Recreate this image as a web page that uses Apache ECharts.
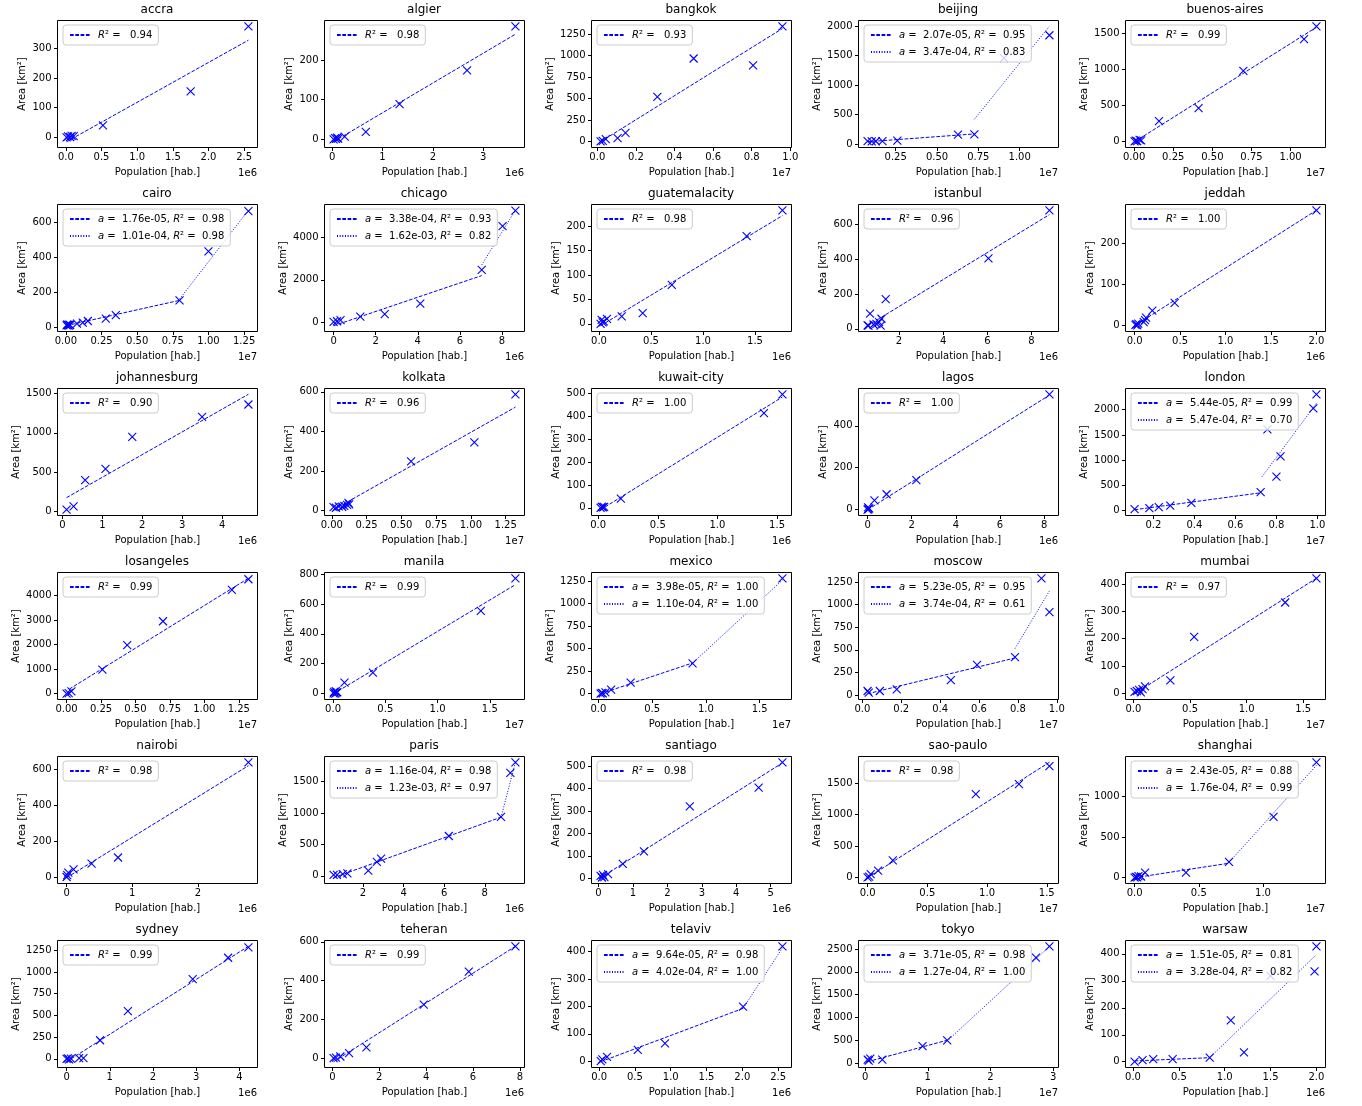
<!DOCTYPE html>
<html><head><meta charset="utf-8">
<script src="https://cdn.jsdelivr.net/npm/echarts@6/dist/echarts.min.js"></script>
<style>html,body{margin:0;padding:0;background:#fff}#c{width:1362px;height:1106px}</style>
</head><body><div id="c"></div>
<script>
const cities = ['accra','algier','bangkok','beijing','buenos-aires','cairo','chicago','guatemalacity','istanbul','jeddah','johannesburg','kolkata','kuwait-city','lagos','london','losangeles','manila','mexico','moscow','mumbai','nairobi','paris','santiago','sao-paulo','shanghai','sydney','teheran','telaviv','tokyo','warsaw'];
const exponents = [6,6,7,7,7,7,6,6,6,6,6,7,6,6,7,7,7,7,7,7,6,6,6,7,7,6,6,6,7,6];
const popX = [
 [0.01,0.03,0.06,0.08,0.11,0.52,1.75,2.56],
 [0.03,0.06,0.08,0.1,0.12,0.25,0.67,1.34,2.68,3.64],
 [0.017,0.028,0.044,0.105,0.146,0.311,0.499,0.807,0.959],
 [0.08,0.105,0.13,0.17,0.26,0.627,0.726,0.905,1.18],
 [0.003,0.01,0.02,0.035,0.045,0.159,0.412,0.698,1.086,1.165],
 [0.005,0.01,0.015,0.02,0.025,0.03,0.078,0.118,0.154,0.28,0.35,0.797,1.0,1.28],
 [0.0,0.165,0.33,1.27,2.43,4.12,7.04,8.03,8.64],
 [0.015,0.025,0.035,0.045,0.076,0.218,0.42,0.70,1.42,1.764],
 [0.58,0.62,0.69,0.85,0.98,1.1,1.17,1.21,1.4,6.05,8.81],
 [0.01,0.02,0.03,0.04,0.1,0.115,0.126,0.195,0.441,2.0],
 [0.105,0.28,0.57,1.08,1.75,3.5,4.66],
 [0.013,0.03,0.05,0.075,0.09,0.11,0.12,0.125,0.57,1.025,1.32],
 [0.02,0.03,0.04,0.05,0.19,1.39,1.545],
 [0.0,0.02,0.04,0.07,0.31,0.86,2.21,8.24],
 [0.108,0.18,0.226,0.282,0.385,0.723,0.8,0.82,0.756,0.98,0.995],
 [0.0,0.015,0.035,0.26,0.44,0.70,1.20,1.32],
 [0.005,0.01,0.02,0.025,0.03,0.04,0.109,0.381,1.414,1.745],
 [0.02,0.03,0.04,0.065,0.118,0.30,0.876,1.712],
 [0.027,0.033,0.09,0.177,0.455,0.59,0.785,0.921,0.962],
 [0.01,0.03,0.05,0.065,0.08,0.102,0.326,0.536,1.34,1.616],
 [0.0,0.01,0.026,0.106,0.38,0.783,2.767],
 [0.55,0.72,1.0,1.23,2.26,2.68,2.89,6.23,8.8,9.26,9.51],
 [0.06,0.1,0.13,0.17,0.276,0.705,1.32,2.65,4.65,5.34],
 [0.0,0.013,0.026,0.088,0.211,0.906,1.267,1.522],
 [0.0,0.01,0.02,0.03,0.05,0.082,0.4,0.735,1.082,1.416],
 [0.0,0.03,0.06,0.1,0.29,0.39,0.775,1.42,2.92,3.74,4.21],
 [0.05,0.15,0.34,0.71,1.45,3.9,5.82,7.81],
 [0.022,0.044,0.11,0.54,0.92,2.01,2.56],
 [0.042,0.058,0.083,0.275,0.917,1.31,2.725,2.94],
 [0.017,0.104,0.22,0.432,0.836,1.066,1.21,1.5,1.98,2.0]
];
const areaY = [
 [0,3,1,5,4,40,155,375],
 [0,3,1,4,2,7,19,89,174,285],
 [0,8,28,39,99,520,966,887,1341],
 [50,45,48,50,58,161,165,1457,1843],
 [0,10,2,20,15,283,462,981,1425,1604],
 [10,15,12,8,14,11,20,26,35,49,69,153,433,663],
 [0,33,83,250,367,867,2467,4550,5283],
 [0,8,3,5,10,15,22,80,180,233],
 [20,18,87,25,29,39,19,58,171,404,680],
 [0,2,-1,3,7,12,18,35,54,282],
 [22,65,400,543,948,1204,1361],
 [18,15,22,20,25,30,40,32,249,345,588],
 [0,5,2,4,40,414,496],
 [0,10,2,5,44,73,141,551],
 [33,53,73,100,154,368,675,1076,1611,2025,2306],
 [0,20,100,980,1980,2950,4230,4660],
 [0,10,-2,15,5,8,72,140,554,773],
 [0,10,5,15,45,124,337,1280],
 [45,26,45,64,165,334,420,1291,916],
 [5,8,12,3,15,25,47,207,333,422],
 [0,11,25,43,75,109,641],
 [17,17,28,39,83,221,276,635,939,1641,1807],
 [10,3,15,5,18,64,120,321,405,518],
 [0,11,54,108,270,1322,1484,1770],
 [0,10,5,20,15,62,62,196,750,1425],
 [0,5,-5,3,8,8,214,550,918,1163,1282],
 [0,3,9,26,56,276,446,577],
 [0,7,16,41,65,199,420],
 [75,52,97,75,373,500,2313,2560],
 [0,6,10,10,15,153,35,318,335,428]
];
// fit segments: [x0, y0, x1, y1]
const fitA = [
 [0.01,-15,2.56,328],[0.03,-6,3.64,265],[0.017,-3,0.959,1315],[0.08,40,0.726,172],[0.003,-5,1.165,1590],
 [0.005,9,0.797,153],[0.0,-180,7.04,2200],[0.015,-4,1.764,222],[0.58,18,8.81,655],[0.0,-2,2.0,282],
 [0.105,176,4.66,1491],[0.013,5,1.32,523],[0.02,-8,1.545,484],[0.0,-1,8.24,547],[0.108,20,0.723,355],
 [0.02,190,1.32,4700],[0.005,-2,1.745,730],[0.02,0,0.876,341],[0.027,15,0.785,410],[0.01,-2,1.616,422],
 [0.0,-4,2.767,622],[0.55,-30,8.8,935],[0.06,2,5.34,515],[0.0,-5,1.522,1830],[0.0,0,0.735,179],
 [0.0,-33,4.21,1295],[0.05,-18,7.81,577],[0.02,-2,2.01,193],[0.04,30,1.31,501],[0.017,3,0.836,15]
];
const fitB = [
 null,null,null,[0.726,420,1.18,1995],null,
 [0.797,160,1.28,668],[7.04,2707,8.64,5299],null,null,null,
 null,null,null,null,[0.73,675,0.995,2125],
 null,null,[0.876,340,1.712,1260],[0.785,514,0.962,1150],null,
 null,[8.8,930,9.51,1810],null,null,[0.735,188,1.416,1387],
 null,null,[2.01,193,2.56,414],[1.31,485,2.94,2555],[0.836,15,2.0,397]
];
const slopeA = [null,null,null,'2.07e-05',null,'1.76e-05','3.38e-04',null,null,null,null,null,null,null,'5.44e-05',null,null,'3.98e-05','5.23e-05',null,null,'1.16e-04',null,null,'2.43e-05',null,null,'9.64e-05','3.71e-05','1.51e-05'];
const r2A = ['0.94','0.98','0.93','0.95','0.99','0.98','0.93','0.98','0.96','1.00','0.90','0.96','1.00','1.00','0.99','0.99','0.99','1.00','0.95','0.97','0.98','0.98','0.98','0.98','0.88','0.99','0.99','0.98','0.98','0.81'];
const slopeB = [null,null,null,'3.47e-04',null,'1.01e-04','1.62e-03',null,null,null,null,null,null,null,'5.47e-04',null,null,'1.10e-04','3.74e-04',null,null,'1.23e-03',null,null,'1.76e-04',null,null,'4.02e-04','1.27e-04','3.28e-04'];
const r2B = [null,null,null,'0.83',null,'0.98','0.82',null,null,null,null,null,null,null,'0.70',null,null,'1.00','0.61',null,null,'0.97',null,null,'0.99',null,null,'1.00','1.00','0.82'];
const xTicks = [
 [0,0.5,1,1.5,2,2.5],[0,1,2,3],[0,0.2,0.4,0.6,0.8,1.0],[0.25,0.5,0.75,1.0],[0,0.25,0.5,0.75,1,1.25],
 [0,0.25,0.5,0.75,1,1.25],[0,2,4,6,8],[0,0.5,1,1.5],[2,4,6,8],[0,0.5,1,1.5,2],
 [0,1,2,3,4],[0,0.25,0.5,0.75,1,1.25],[0,0.5,1,1.5],[0,2,4,6,8],[0.2,0.4,0.6,0.8,1.0],
 [0,0.25,0.5,0.75,1,1.25],[0,0.5,1,1.5],[0,0.5,1,1.5],[0,0.2,0.4,0.6,0.8,1.0],[0,0.5,1,1.5],
 [0,1,2],[2,4,6,8],[0,1,2,3,4,5],[0,0.5,1,1.5],[0,0.5,1],
 [0,1,2,3,4],[0,2,4,6,8],[0,0.5,1,1.5,2,2.5],[0,1,2,3],[0,0.5,1,1.5,2]
];
const yTicks = [
 [0,100,200,300],[0,100,200],[0,250,500,750,1000,1250],[0,500,1000,1500,2000],[0,500,1000,1500],
 [0,200,400,600],[0,2000,4000],[0,50,100,150,200],[0,200,400,600],[0,100,200],
 [0,500,1000,1500],[0,200,400,600],[0,100,200,300,400,500],[0,200,400],[0,500,1000,1500,2000],
 [0,1000,2000,3000,4000,5000],[0,200,400,600,800],[0,250,500,750,1000,1250],[0,250,500,750,1000,1250],[0,100,200,300,400],
 [0,200,400,600],[0,500,1000,1500],[0,100,200,300,400,500],[0,500,1000,1500],[0,500,1000],
 [0,250,500,750,1000,1250],[0,200,400,600],[0,100,200,300,400],[0,500,1000,1500,2000,2500],[0,100,200,300,400]
];

const FONT = 'DejaVu Sans';
const BLUE = '#0000ff';
const L0 = 57, CS = 267, T0 = 20, RS = 184, W = 200, H = 127;
const chart = echarts.init(document.getElementById('c'), null, {renderer:'canvas'});
const opt = {animation:false, backgroundColor:'#ffffff', grid:[], xAxis:[], yAxis:[], series:[], legend:[], graphic:{elements:[]}};
const labels = {};
function decs(t){ if(t.length<2) return 0; const s = String(+(t[1]-t[0]).toFixed(6)); const k = s.indexOf('.'); return k<0 ? 0 : s.length-k-1; }
function tw(s){ let w = 0; for (const ch of s) w += (ch === '.' ? 3.18 : 6.36); return w; }
function lim(v){ const mn = Math.min(...v), mx = Math.max(...v); const r = mx-mn; return [mn-0.05*r, mx+0.05*r]; }
const txt = {fontFamily:FONT, fontSize:10, color:'#000'};

cities.forEach((name, i) => {
  const c = i % 5, r = Math.floor(i / 5);
  const L = L0 + c*CS, T = T0 + r*RS;
  const A = fitA[i], B = fitB[i];
  const xs = popX[i].concat([A[0], A[2]], B ? [B[0], B[2]] : []);
  const ys = areaY[i].concat([A[1], A[3]], B ? [B[1], B[3]] : []);
  const xl = lim(xs), yl = lim(ys);
  const xt = xTicks[i].filter(v => v >= xl[0] && v <= xl[1]);
  const yt = yTicks[i].filter(v => v >= yl[0] && v <= yl[1]);
  const dx = decs(xTicks[i]), dy = decs(yTicks[i]);
  const maxW = Math.max(...yt.map(v => tw(v.toFixed(dy))));
  opt.grid.push({left:L+0.5, top:T+0.5, width:W, height:H, show:true, borderColor:'#000', borderWidth:1, backgroundColor:'rgba(0,0,0,0)'});
  opt.xAxis.push({type:'value', gridIndex:i, min:xl[0], max:xl[1], position:'bottom',
    axisLine:{show:false, onZero:false}, splitLine:{show:false},
    axisTick:{show:true, length:3.5, lineStyle:{color:'#000', width:1}, customValues:xt},
    axisLabel:{show:true, customValues:xt, margin:4.5, fontFamily:FONT, fontSize:10, color:'#000', formatter:v => (+v).toFixed(dx)},
    name:'Population [hab.]', nameLocation:'middle', nameGap:20, nameTextStyle:txt});
  opt.yAxis.push({type:'value', gridIndex:i, min:yl[0], max:yl[1], position:'left',
    axisLine:{show:false, onZero:false}, splitLine:{show:false},
    axisTick:{show:true, length:3.5, lineStyle:{color:'#000', width:1}, customValues:yt},
    axisLabel:{show:true, customValues:yt, margin:6, fontFamily:FONT, fontSize:10, color:'#000', formatter:v => (+v).toFixed(dy)},
    name:'Area [km²]', nameLocation:'middle', nameRotate:90, nameGap:6+maxW+5, nameTextStyle:txt});
  opt.series.push({type:'scatter', xAxisIndex:i, yAxisIndex:i, silent:true, z:3,
    data: popX[i].map((x, k) => [x, areaY[i][k]]),
    symbol:'path://M0,0L10,10M10,0L0,10', symbolSize:8,
    itemStyle:{color:'rgba(0,0,0,0)', borderColor:BLUE, borderWidth:1.1, opacity:1}});
  const nA = name + '#a';
  labels[nA] = slopeA[i] ? ('{i|a} =  ' + slopeA[i] + ', {i|R}² =  ' + r2A[i]) : ('{i|R}² =   ' + r2A[i]);
  opt.series.push({type:'line', name:nA, xAxisIndex:i, yAxisIndex:i, silent:true, z:2,
    data:[[A[0], A[1]], [A[2], A[3]]], symbol:'none',
    lineStyle:{color:BLUE, width:1, type:[3.7,1.6]}, itemStyle:{color:BLUE}});
  const names = [nA];
  if (B) {
    const nB = name + '#b';
    labels[nB] = '{i|a} =  ' + slopeB[i] + ', {i|R}² =  ' + r2B[i];
    opt.series.push({type:'line', name:nB, xAxisIndex:i, yAxisIndex:i, silent:true, z:2,
      data:[[B[0], B[1]], [B[2], B[3]]], symbol:'none',
      lineStyle:{color:BLUE, width:1, type:[1,1.65]}, itemStyle:{color:BLUE}});
    names.push(nB);
  }
  opt.legend.push({show:true, data:names, left:L+6, top:T+5, orient:'vertical', itemWidth:20, itemHeight:10, itemGap:7,
    padding:[5,6,5,6], borderColor:'#cccccc', borderWidth:1, borderRadius:3, backgroundColor:'rgba(255,255,255,0.8)',
    selectedMode:false, z:5,
    itemStyle:{opacity:0, color:'rgba(0,0,0,0)', borderWidth:0},
    formatter: n => labels[n],
    textStyle:{fontFamily:FONT, fontSize:10, color:'#000', padding:[0,0,0,3],
      rich:{i:{fontFamily:FONT, fontSize:10, color:'#000', fontStyle:'italic'}}}});
  opt.graphic.elements.push({type:'text', x:L+W/2, y:T-10, silent:true,
    style:{text:name, font:'12px "DejaVu Sans"', fill:'#000', align:'center', verticalAlign:'middle', textAlign:'center', textVerticalAlign:'middle'}});
  opt.graphic.elements.push({type:'text', x:L+W, y:T+H+26, silent:true,
    style:{text:'1e' + exponents[i], font:'10px "DejaVu Sans"', fill:'#000', align:'right', verticalAlign:'middle', textAlign:'right', textVerticalAlign:'middle'}});
});
chart.setOption(opt);
</script>
</body></html>
